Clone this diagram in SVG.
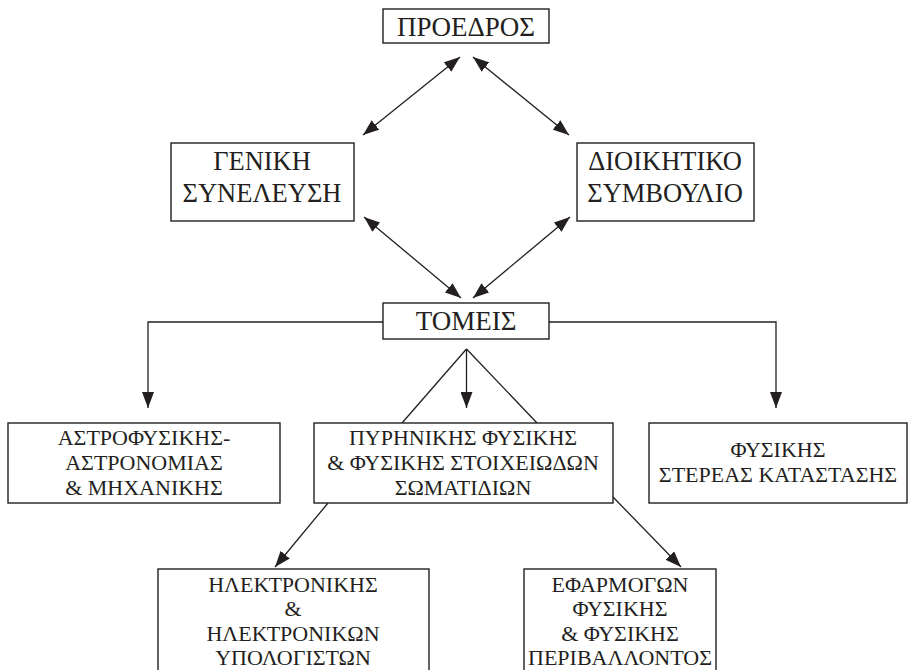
<svg xmlns="http://www.w3.org/2000/svg" width="914" height="670" viewBox="0 0 914 670">
<defs>
<style>
.box{fill:#fff;stroke:#231f20;stroke-width:1.4}
.t{font-family:"Liberation Serif","Times New Roman",serif;fill:#231f20;text-anchor:middle}
.x{font-size:27px}
.l{font-size:26.5px}
.m{font-size:22px}
.c{fill:none;stroke:#231f20;stroke-width:1.3}
</style>
<marker id="ah" viewBox="0 0 16 12" refX="16" refY="6" markerWidth="16" markerHeight="12" markerUnits="userSpaceOnUse" orient="auto-start-reverse">
<path d="M0,0 L16,6 L0,12 Z" fill="#231f20"/>
</marker>
</defs>
<g id="connectors">
<line class="c" x1="460" y1="57" x2="363" y2="135" marker-start="url(#ah)" marker-end="url(#ah)"/>
<line class="c" x1="473" y1="57" x2="569" y2="135" marker-start="url(#ah)" marker-end="url(#ah)"/>
<line class="c" x1="364" y1="217" x2="461" y2="298" marker-start="url(#ah)" marker-end="url(#ah)"/>
<line class="c" x1="570" y1="217" x2="473" y2="298" marker-start="url(#ah)" marker-end="url(#ah)"/>
<polyline class="c" points="383,322 148,322 148,408" marker-end="url(#ah)"/>
<polyline class="c" points="549,322 776,322 776,408" marker-end="url(#ah)"/>
<line class="c" x1="466.5" y1="349" x2="466.5" y2="408" marker-end="url(#ah)"/>
<line class="c" x1="466.5" y1="349" x2="402" y2="423"/>
<line class="c" x1="466.5" y1="349" x2="537" y2="423"/>
<line class="c" x1="328" y1="503" x2="275" y2="567" marker-end="url(#ah)"/>
<line class="c" x1="613" y1="497" x2="681" y2="567" marker-end="url(#ah)"/>
</g>
<g id="proedros">
<rect class="box" x="383" y="9" width="166" height="34"/>
<text class="t x" x="466" y="36">ΠΡΟΕΔΡΟΣ</text>
</g>
<g id="geniki">
<rect class="box" x="171" y="143" width="183" height="78"/>
<text class="t l" x="262" y="170">ΓΕΝΙΚΗ</text>
<text class="t l" x="262" y="202">ΣΥΝΕΛΕΥΣΗ</text>
</g>
<g id="dioikitiko">
<rect class="box" x="577" y="143" width="177" height="78"/>
<text class="t l" x="665" y="170">ΔΙΟΙΚΗΤΙΚΟ</text>
<text class="t l" x="665" y="202">ΣΥΜΒΟΥΛΙΟ</text>
</g>
<g id="tomeis">
<rect class="box" x="383" y="303" width="166" height="36"/>
<text class="t x" x="466" y="330">ΤΟΜΕΙΣ</text>
</g>
<g id="astrofysikis">
<rect class="box" x="8" y="423" width="272" height="80"/>
<text class="t m" x="144" y="445">ΑΣΤΡΟΦΥΣΙΚΗΣ-</text>
<text class="t m" x="144" y="470">ΑΣΤΡΟΝΟΜΙΑΣ</text>
<text class="t m" x="144" y="495">&amp; ΜΗΧΑΝΙΚΗΣ</text>
</g>
<g id="pyrinikis">
<rect class="box" x="314" y="423" width="299" height="80"/>
<text class="t m" x="463" y="445">ΠΥΡΗΝΙΚΗΣ ΦΥΣΙΚΗΣ</text>
<text class="t m" x="463" y="470">&amp; ΦΥΣΙΚΗΣ ΣΤΟΙΧΕΙΩΔΩΝ</text>
<text class="t m" x="463" y="495">ΣΩΜΑΤΙΔΙΩΝ</text>
</g>
<g id="stereas">
<rect class="box" x="649" y="423" width="258" height="80"/>
<text class="t m" x="778" y="457">ΦΥΣΙΚΗΣ</text>
<text class="t m" x="778" y="482">ΣΤΕΡΕΑΣ ΚΑΤΑΣΤΑΣΗΣ</text>
</g>
<g id="ilektronikis">
<rect class="box" x="158" y="569" width="271" height="102"/>
<text class="t m" x="293" y="592">ΗΛΕΚΤΡΟΝΙΚΗΣ</text>
<text class="t m" x="293" y="616">&amp;</text>
<text class="t m" x="293" y="641">ΗΛΕΚΤΡΟΝΙΚΩΝ</text>
<text class="t m" x="293" y="665">ΥΠΟΛΟΓΙΣΤΩΝ</text>
</g>
<g id="efarmogon">
<rect class="box" x="524" y="569" width="192" height="102"/>
<text class="t m" x="620" y="592">ΕΦΑΡΜΟΓΩΝ</text>
<text class="t m" x="620" y="616">ΦΥΣΙΚΗΣ</text>
<text class="t m" x="620" y="641">&amp; ΦΥΣΙΚΗΣ</text>
<text class="t m" x="620" y="665">ΠΕΡΙΒΑΛΛΟΝΤΟΣ</text>
</g>
</svg>
